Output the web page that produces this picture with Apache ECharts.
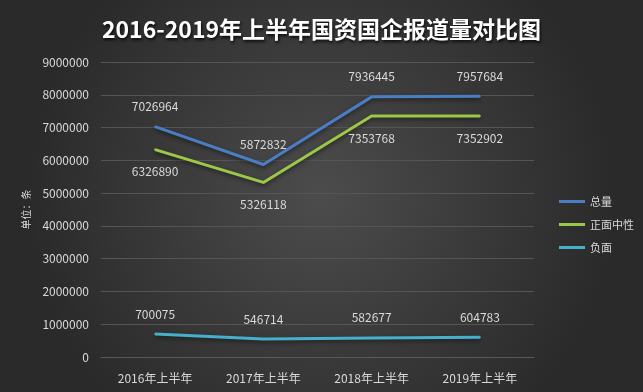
<!DOCTYPE html>
<html><head><meta charset="utf-8">
<script src="https://cdn.jsdelivr.net/npm/echarts@6/dist/echarts.min.js"></script>
<style>html,body{margin:0;padding:0;}#c{width:643px;height:392px;}</style>
</head><body><div id="c"></div>
<script>
const categories = ['2016年上半年','2017年上半年','2018年上半年','2019年上半年'];
const totalValues = [7026964, 5872832, 7936445, 7957684];
const neutralValues = [6326890, 5326118, 7353768, 7352902];
const negativeValues = [700075, 546714, 582677, 604783];
const seriesNames = ['总量','正面中性','负面'];
const yTicks = {min:0, max:9000000, interval:1000000};

const chart = echarts.init(document.getElementById('c'));
const font = '"Noto Sans CJK SC", "Noto Sans", sans-serif';
const lbl = (pos, d) => ({show:true, position:pos, color:'#d9d9d9', fontSize:12, fontFamily:font, distance:d});
const mk = (name, data, color, pos, d) => ({name, type:'line', data, symbol:'circle', symbolSize:2, showSymbol:true,
  lineStyle:{width:3, color, shadowColor:'rgba(0,0,0,0.5)', shadowBlur:4, shadowOffsetY:2}, itemStyle:{color}, label:lbl(pos, d)});
chart.setOption({
  backgroundColor: {type:'radial', x:0.5, y:0.5, r:0.75, colorStops:[{offset:0,color:'#4c4c4c'},{offset:1,color:'#2a2a2a'}]},
  animation:false,
  title:{text:'2016-2019年上半年国资国企报道量对比图', left:'center', top:13,
    textStyle:{color:'#ffffff', fontSize:23, fontWeight:'bold', fontFamily:font, textShadowColor:'rgba(0,0,0,0.8)', textShadowBlur:3, textShadowOffsetX:1, textShadowOffsetY:2}},
  legend:{orient:'vertical', left:554, top:191, itemGap:12, itemWidth:26, itemHeight:3, icon:'rect',
    textStyle:{color:'#d9d9d9', fontSize:11, fontFamily:font}, data:seriesNames},
  grid:{left:101, right:109, top:62, bottom:35, containLabel:false},
  xAxis:{type:'category', data:categories, boundaryGap:true,
    axisLine:{lineStyle:{color:'#595959'}}, axisTick:{show:false},
    axisLabel:{color:'#d9d9d9', fontSize:12, fontFamily:font, margin:15}},
  yAxis:{type:'value', min:yTicks.min, max:yTicks.max, interval:yTicks.interval,
    name:'单位：条', nameLocation:'middle', nameGap:70, nameRotate:90,
    nameTextStyle:{color:'#d9d9d9', fontSize:10, fontFamily:font},
    axisLine:{show:false}, axisTick:{show:false},
    splitLine:{lineStyle:{color:'#555555'}},
    axisLabel:{color:'#d9d9d9', fontSize:12, fontFamily:font, margin:12, formatter:(v)=>String(v)}},
  series:[
    mk(seriesNames[0], totalValues, '#4a7ec2', 'top', 13),
    mk(seriesNames[1], neutralValues, '#9cc84a', 'bottom', 15),
    mk(seriesNames[2], negativeValues, '#46afcc', 'top', 13)
  ]
});
</script></body></html>
